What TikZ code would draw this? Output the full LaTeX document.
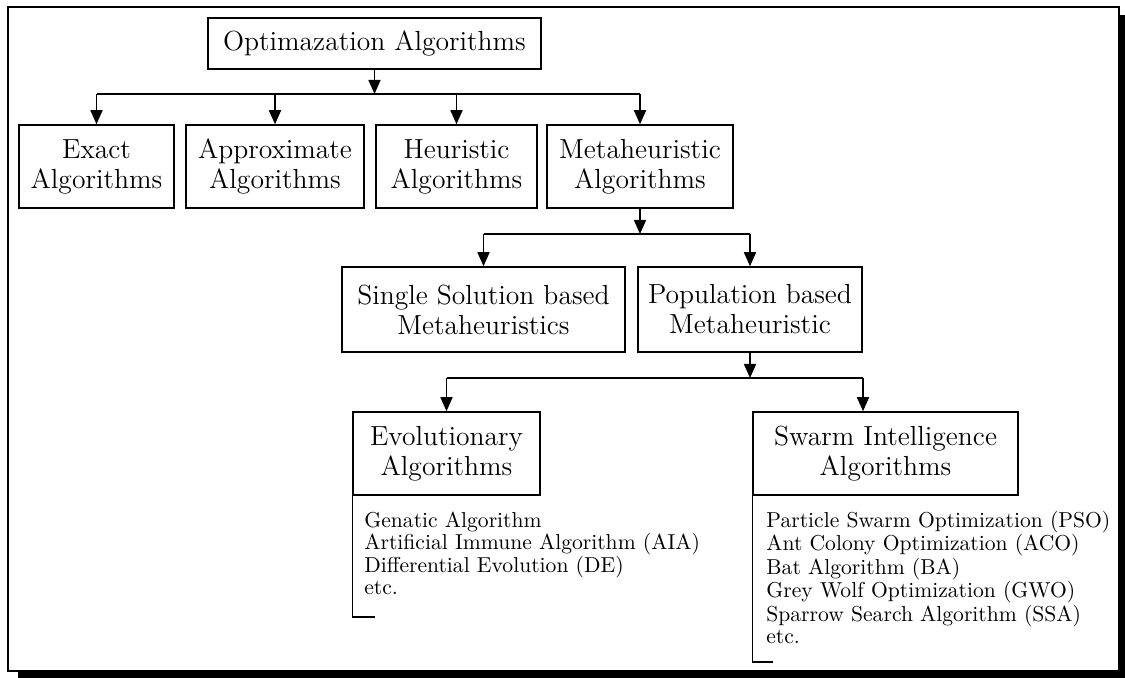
\documentclass[tikz,border=0pt]{standalone}
\usepackage{tikz}
\usetikzlibrary{arrows.meta,positioning,calc}

\begin{document}
\begin{tikzpicture}[
    x=0.5pt, y=-0.5pt,
    box/.style={draw, line width=0.75pt, align=center, inner sep=2pt, font=\fontsize{13.8}{15}\selectfont},
    link/.style={-{Triangle[length=7pt,width=6pt]}, line width=0.75pt},
    bus/.style={line width=0.75pt},
    algolist/.style={align=left, inner sep=0pt, anchor=north west, font=\fontsize{10.8}{10.75}\selectfont}
]

% Frame with shadow
\useasboundingbox (0,0) rectangle (1125,678);
\fill (18,671) rectangle (1125,678);
\fill (1119,15) rectangle (1125,678);
\draw[line width=0.9pt] (8,7) rectangle (1119,671);

% Bus levels
\coordinate (row1) at (0,94);
\coordinate (row2) at (0,234);
\coordinate (row3) at (0,378);

% Root
\node[box, minimum width=166.5pt, minimum height=25.5pt] (opt) at (374.5,43.5) {Optimazation Algorithms};

% First level
\node[box, minimum width=77.5pt, minimum height=41.5pt] (exact) at (96.5,166.5) {Exact\\Algorithms};
\node[box, minimum width=89pt, minimum height=41.5pt] (approx) at (275,166.5) {Approximate\\Algorithms};
\node[box, minimum width=80.5pt, minimum height=41.5pt] (heur) at (456.5,166.5) {Heuristic\\Algorithms};
\node[box, minimum width=93pt, minimum height=41.5pt] (meta) at (640,166.5) {Metaheuristic\\Algorithms};

\draw[link] (opt.south) -- (opt.south |- row1);
\draw[bus] (exact.north |- row1) -- (meta.north |- row1);
\foreach \n in {exact,approx,heur,meta}
    \draw[link] (\n.north |- row1) -- (\n.north);

% Second level
\node[box, minimum width=141.5pt, minimum height=42.5pt] (single) at (483.5,309.5) {Single Solution based\\Metaheuristics};
\node[box, minimum width=112pt, minimum height=42.5pt] (pop) at (750,309.5) {Population based\\Metaheuristic};

\draw[link] (meta.south) -- (meta.south |- row2);
\draw[bus] (single.north |- row2) -- (pop.north |- row2);
\foreach \n in {single,pop}
    \draw[link] (\n.north |- row2) -- (\n.north);

% Third level
\node[box, minimum width=93.5pt, minimum height=41.5pt] (evo) at (446.5,453.5) {Evolutionary\\Algorithms};
\node[box, minimum width=132.5pt, minimum height=41.5pt] (swarm) at (885.5,453.5) {Swarm Intelligence\\Algorithms};
\coordinate (swarmin) at ([xshift=-11.25pt]swarm.north);

\draw[link] (pop.south) -- (pop.south |- row3);
\draw[bus] (evo.north |- row3) -- (swarmin |- row3);
\draw[link] (evo.north |- row3) -- (evo.north);
\draw[link] (swarmin |- row3) -- (swarmin);

% Lists
\node[algolist] (evolist) at (364,512) {Genatic Algorithm\\Artificial Immune Algorithm (AIA)\\Differential Evolution (DE)\\etc.};
\node[algolist] (swarmlist) at (766,510.5) {Particle Swarm Optimization (PSO)\\Ant Colony Optimization (ACO)\\Bat Algorithm (BA)\\Grey Wolf Optimization (GWO)\\Sparrow Search Algorithm (SSA)\\etc.};

\coordinate (evoend) at (375,617);
\coordinate (swarmend) at (773,662);
\draw[bus] (evo.south west) |- (evoend);
\draw[bus] (swarm.south west) |- (swarmend);

\end{tikzpicture}
\end{document}
